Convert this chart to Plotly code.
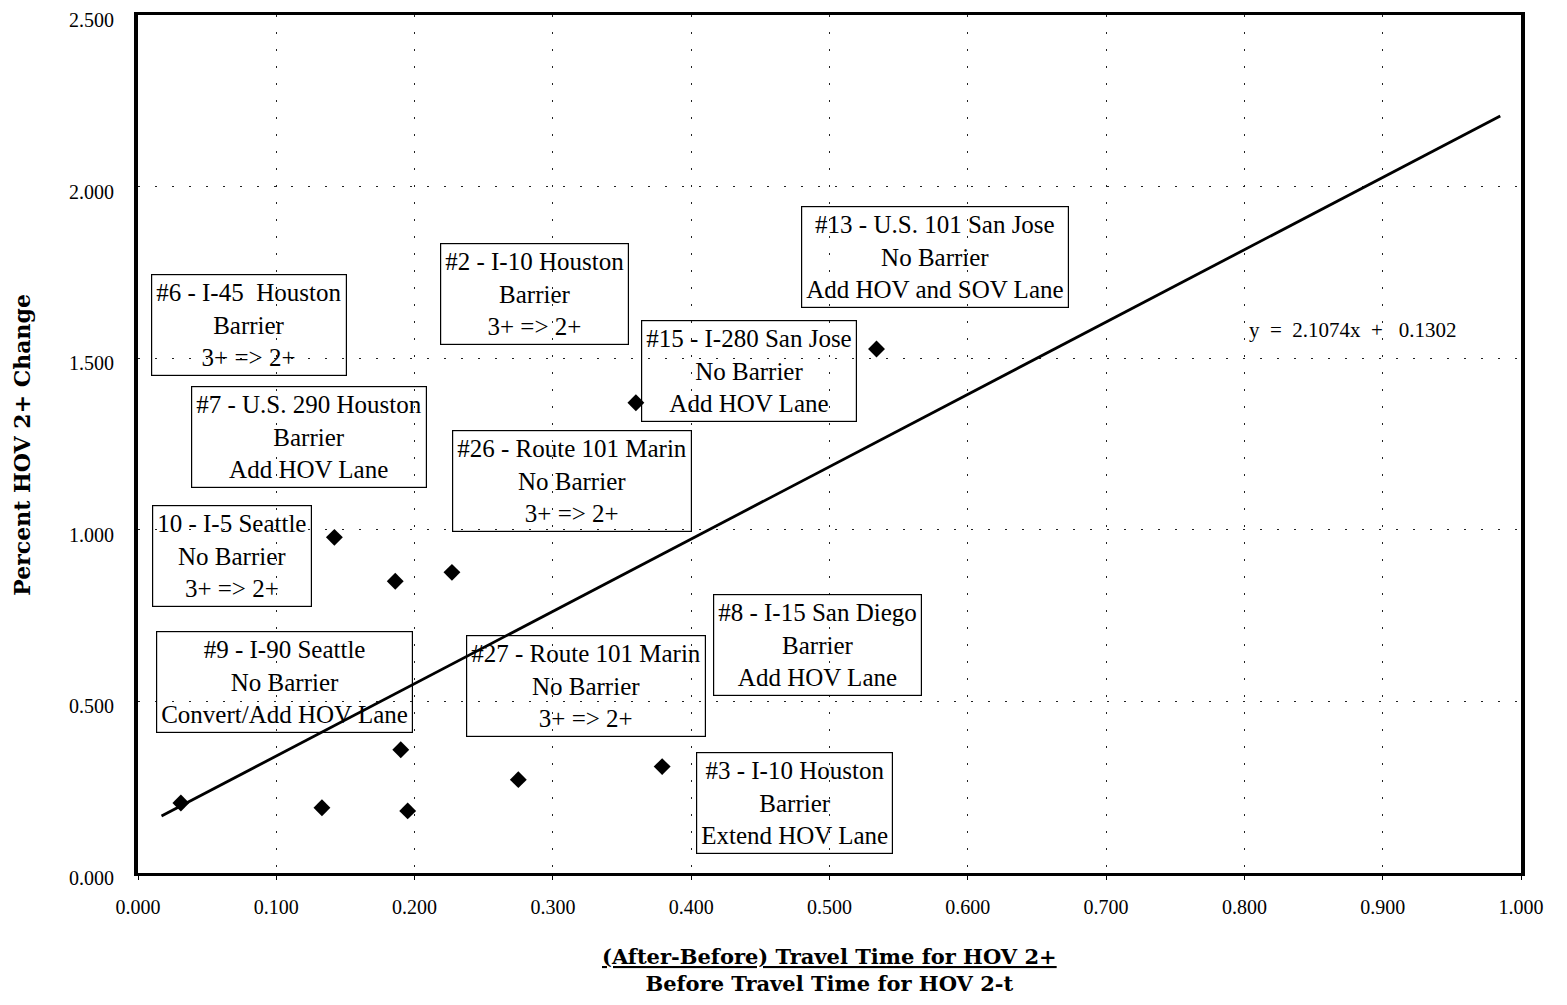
import plotly.graph_objects as go

# Data
x_vals = [0.031, 0.133, 0.142, 0.186, 0.190, 0.195, 0.227, 0.275, 0.360, 0.379, 0.534]
y_vals = [0.204, 0.190, 0.978, 0.850, 0.359, 0.181, 0.876, 0.272, 1.370, 0.310, 1.527]

slope = 2.1074
intercept = 0.1302
trend_x = [0.017, 0.985]

x_ticks = [0.0, 0.1, 0.2, 0.3, 0.4, 0.5, 0.6, 0.7, 0.8, 0.9, 1.0]
y_ticks = [0.0, 0.5, 1.0, 1.5, 2.0, 2.5]

labels = [
    "#6 - I-45  Houston<br>Barrier<br>3+ => 2+",
    "#2 - I-10 Houston<br>Barrier<br>3+ => 2+",
    "#13 - U.S. 101 San Jose<br>No Barrier<br>Add HOV and SOV Lane",
    "#15 - I-280 San Jose<br>No Barrier<br>Add HOV Lane",
    "#7 - U.S. 290 Houston<br>Barrier<br>Add HOV Lane",
    "#26 - Route 101 Marin<br>No Barrier<br>3+ => 2+",
    "10 - I-5 Seattle<br>No Barrier<br>3+ => 2+",
    "#9 - I-90 Seattle<br>No Barrier<br>Convert/Add HOV Lane",
    "#27 - Route 101 Marin<br>No Barrier<br>3+ => 2+",
    "#8 - I-15 San Diego<br>Barrier<br>Add HOV Lane",
    "#3 - I-10 Houston<br>Barrier<br>Extend HOV Lane",
]
label_x = [0.080, 0.287, 0.576, 0.442, 0.124, 0.314, 0.068, 0.106, 0.324, 0.491, 0.475]
label_y = [1.597, 1.687, 1.795, 1.463, 1.270, 1.142, 0.924, 0.557, 0.545, 0.664, 0.204]

eq_text = "y  =  2.1074x  +   0.1302"
eq_pos = (0.878, 1.582)

x_title = "<b><u>(After-Before) Travel Time for HOV 2+</u></b><br><b>Before Travel Time for HOV 2-t</b>"
y_title = "<b>Percent HOV 2+ Change</b>"

serif = "Liberation Serif, Times New Roman, serif"
wide_serif = "DejaVu Serif, serif"

fig = go.Figure()

fig.add_trace(go.Scatter(
    x=trend_x, y=[slope * v + intercept for v in trend_x],
    mode="lines", line=dict(color="black", width=2.8),
    showlegend=False, hoverinfo="skip"))

fig.add_trace(go.Scatter(
    x=x_vals, y=y_vals, mode="markers",
    marker=dict(symbol="diamond", size=13, color="black"),
    showlegend=False))

for t, xx, yy in zip(labels, label_x, label_y):
    fig.add_annotation(
        x=xx, y=yy, xref="x", yref="y", text=t, showarrow=False,
        font=dict(family=serif, size=25, color="black"),
        bordercolor="black", borderwidth=1.2, borderpad=4,
        align="center")

fig.add_annotation(
    x=eq_pos[0], y=eq_pos[1], xref="x", yref="y", text=eq_text,
    showarrow=False, font=dict(family=serif, size=21, color="black"))

# axis titles
fig.add_annotation(
    x=0.5, y=-0.113, xref="paper", yref="paper", text=x_title,
    showarrow=False, xanchor="center", yanchor="middle",
    font=dict(family=wide_serif, size=21, color="black"))
fig.add_annotation(
    x=-0.084, y=0.499, xref="paper", yref="paper", text=y_title,
    showarrow=False, textangle=-90, xanchor="center", yanchor="middle",
    font=dict(family=wide_serif, size=22, color="black"))

fig.update_layout(
    width=1551, height=989,
    margin=dict(l=130, r=38, t=7, b=124),
    paper_bgcolor="white", plot_bgcolor="white",
    font=dict(family=serif, color="black"),
    xaxis=dict(
        range=[0, 1.0], tickvals=x_ticks, tickformat=".3f",
        showgrid=True, gridcolor="#222", gridwidth=1, griddash="2px,15px",
        showline=True, linecolor="black", linewidth=3, mirror=True,
        ticks="outside", ticklen=4, tickcolor="black",
        tickfont=dict(family=serif, size=20, color="black"),
        ticklabelstandoff=10, zeroline=False, automargin=False,
        ticklabeloverflow="allow",
    ),
    yaxis=dict(
        range=[0, 2.5], tickvals=y_ticks, tickformat=".3f",
        showgrid=True, gridcolor="#222", gridwidth=1, griddash="2px,15px",
        showline=True, linecolor="black", linewidth=4, mirror=True,
        ticks="", tickfont=dict(family=serif, size=20, color="black"),
        ticklabelstandoff=16, ticklabelshift=5, zeroline=False, automargin=False,
        ticklabeloverflow="allow",
    ),
)

fig.write_html("out.html")
